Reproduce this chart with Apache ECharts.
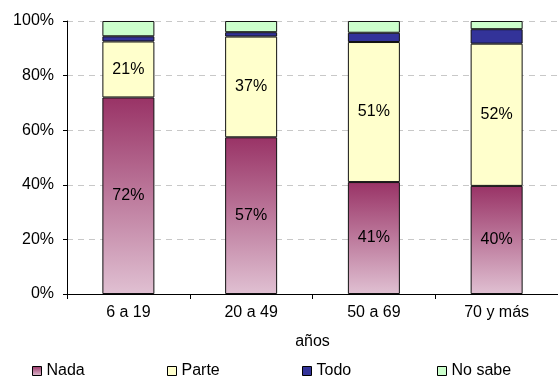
<!DOCTYPE html>
<html><head><meta charset="utf-8">
<script src="https://cdn.jsdelivr.net/npm/echarts@6/dist/echarts.min.js"></script>
<style>html,body{margin:0;padding:0;background:#fff}#c{width:558px;height:379px}</style>
</head><body><div id="c"></div>
<script>
const categories = ['6 a 19', '20 a 49', '50 a 69', '70 y más'];
const nada = [72, 57.4, 41, 39.6];
const parte = [20.5, 36.9, 51.3, 52.1];
const todo = [1.9, 1.6, 3.4, 5.3];
const noSabe = [5.6, 4.1, 4.3, 3.0];
const yTicks = [0, 20, 40, 60, 80, 100];
const seriesNames = ['Nada', 'Parte', 'Todo', 'No sabe'];

const font = 'Liberation Sans, Arial, sans-serif';
const nadaGrad = new echarts.graphic.LinearGradient(0, 0, 0, 1, [
  {offset: 0, color: '#993366'}, {offset: 1, color: '#e0c0d2'}]);
const colors = [nadaGrad, '#FFFFCC', '#333399', '#CCFFCC'];
const datas = [nada, parte, todo, noSabe];

const chart = echarts.init(document.getElementById('c'));
const series = datas.map((d, i) => ({
  name: seriesNames[i], type: 'bar', stack: 's', data: d,
  barWidth: 52,
  itemStyle: {color: colors[i], borderColor: '#111', borderWidth: 1},
  label: i < 2 ? {show: true, position: 'inside', color: '#000', fontFamily: font, fontSize: 16,
    formatter: p => Math.round(p.value) + '%'} : {show: false},
  emphasis: {disabled: true}
}));
const legendX = [32, 167, 302, 437];
const legends = seriesNames.map((n, i) => ({
  data: [n], left: legendX[i] - 5, top: 358, itemWidth: 9, itemHeight: 9, itemGap: 5,
  icon: 'rect', textStyle: {fontFamily: font, fontSize: 16, color: '#000'},
  selectedMode: false, itemStyle: {borderColor: '#000', borderWidth: 1}
}));
chart.setOption({
  animation: false,
  grid: {left: 67, top: 21, width: 498, height: 273, containLabel: false},
  legend: legends,
  xAxis: {type: 'category', data: categories, name: 'años', nameLocation: 'middle', nameGap: 40,
    nameTextStyle: {fontFamily: font, fontSize: 16, color: '#000'},
    axisLine: {lineStyle: {color: '#000', width: 1}},
    axisTick: {show: true, alignWithLabel: false, length: 5, lineStyle: {color: '#000'}},
    axisLabel: {fontFamily: font, fontSize: 16, color: '#000', margin: 11}},
  yAxis: {type: 'value', min: yTicks[0], max: yTicks[yTicks.length - 1], interval: 20,
    axisLine: {show: true, lineStyle: {color: '#000', width: 1}},
    axisTick: {show: true, length: 4, inside: false, lineStyle: {color: '#000'}},
    axisLabel: {fontFamily: font, fontSize: 16, color: '#000', margin: 13, formatter: v => v + '%'},
    splitLine: {show: true, lineStyle: {color: '#c8c8c8', type: [6, 5], width: 1}}},
  series: series
});
</script></body></html>
